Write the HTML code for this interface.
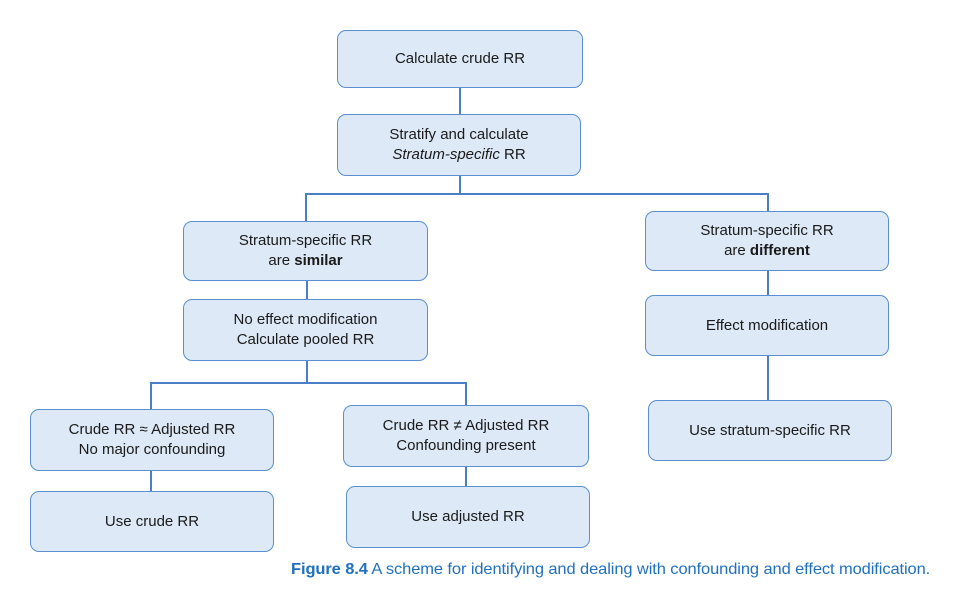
<!DOCTYPE html>
<html><head><style>
body{margin:0;width:953px;height:591px;background:#fff;position:relative;overflow:hidden;font-family:"Liberation Sans",sans-serif;}
.b{position:absolute;box-sizing:border-box;background:#dde9f6;border:1.5px solid #5a8fd2;border-radius:9px;display:flex;align-items:center;justify-content:center;text-align:center;font-size:15px;line-height:20px;color:#1a1a1a;}
.l{position:absolute;background:#4a7fc8;}
.cap{position:absolute;left:291px;top:561px;font-size:16px;color:#2070c0;white-space:nowrap;transform:scaleX(1.03);transform-origin:left top;letter-spacing:-0.1px;}
</style></head><body>
<div class="l" style="left:459px;top:87px;width:1.5px;height:28px"></div>
<div class="l" style="left:459px;top:175px;width:1.5px;height:19px"></div>
<div class="l" style="left:305px;top:193px;width:463px;height:1.5px"></div>
<div class="l" style="left:305px;top:193px;width:1.5px;height:29px"></div>
<div class="l" style="left:767px;top:193px;width:1.5px;height:19px"></div>
<div class="l" style="left:306px;top:280px;width:1.5px;height:20px"></div>
<div class="l" style="left:306px;top:360px;width:1.5px;height:23px"></div>
<div class="l" style="left:150px;top:382px;width:316px;height:1.5px"></div>
<div class="l" style="left:150px;top:382px;width:1.5px;height:28px"></div>
<div class="l" style="left:465px;top:382px;width:1.5px;height:24px"></div>
<div class="l" style="left:150px;top:470px;width:1.5px;height:22px"></div>
<div class="l" style="left:465px;top:466px;width:1.5px;height:21px"></div>
<div class="l" style="left:767px;top:270px;width:1.5px;height:26px"></div>
<div class="l" style="left:767px;top:355px;width:1.5px;height:46px"></div>

<div class="b" style="left:337px;top:30px;width:246px;height:58px"><span>Calculate crude RR</span></div>
<div class="b" style="left:337px;top:114px;width:244px;height:62px"><span>Stratify and calculate<br><i>Stratum-specific</i> RR</span></div>
<div class="b" style="left:183px;top:221px;width:245px;height:60px"><span>Stratum-specific RR<br>are <b>similar</b></span></div>
<div class="b" style="left:645px;top:211px;width:244px;height:60px"><span>Stratum-specific RR<br>are <b>different</b></span></div>
<div class="b" style="left:183px;top:299px;width:245px;height:62px"><span>No effect modification<br>Calculate pooled RR</span></div>
<div class="b" style="left:645px;top:295px;width:244px;height:61px"><span>Effect modification</span></div>
<div class="b" style="left:30px;top:409px;width:244px;height:62px"><span>Crude RR ≈ Adjusted RR<br>No major confounding</span></div>
<div class="b" style="left:343px;top:405px;width:246px;height:62px"><span>Crude RR ≠ Adjusted RR<br>Confounding present</span></div>
<div class="b" style="left:648px;top:400px;width:244px;height:61px"><span>Use stratum-specific RR</span></div>
<div class="b" style="left:30px;top:491px;width:244px;height:61px"><span>Use crude RR</span></div>
<div class="b" style="left:346px;top:486px;width:244px;height:62px"><span>Use adjusted RR</span></div>
<div class="cap"><b>Figure 8.4</b> A scheme for identifying and dealing with confounding and effect modification.</div>
</body></html>
